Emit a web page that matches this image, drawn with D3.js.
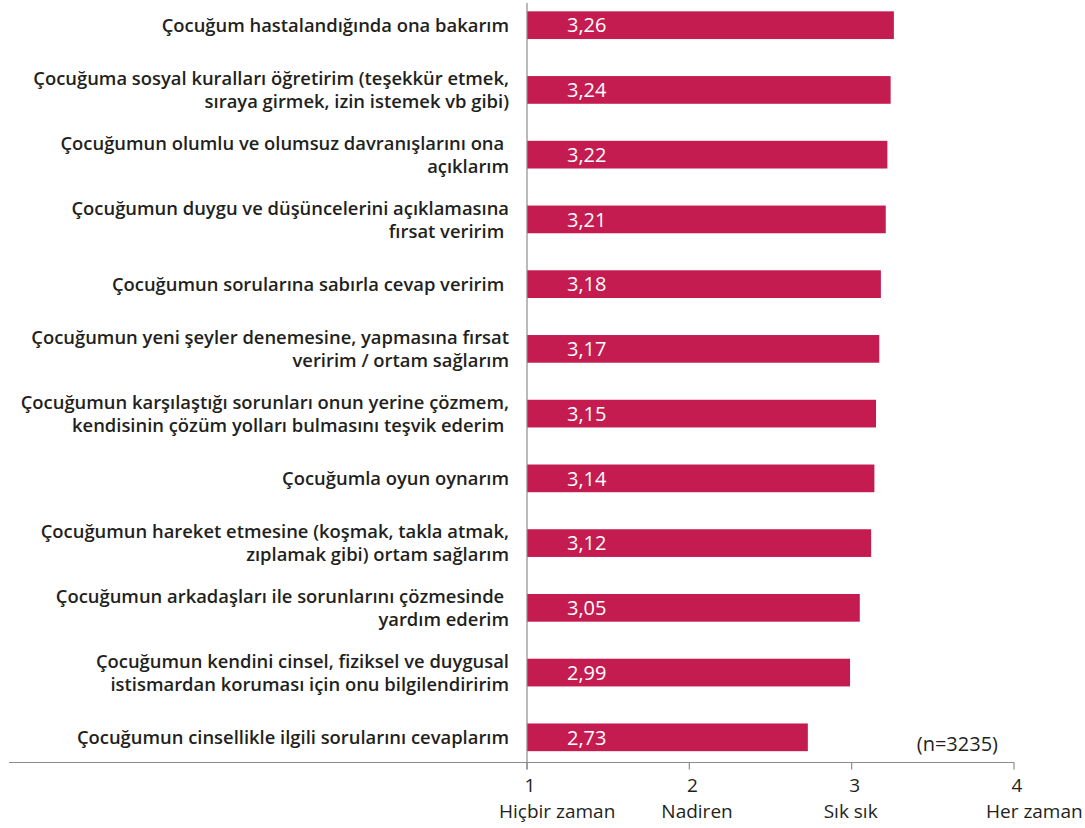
<!DOCTYPE html>
<html>
<head>
<meta charset="utf-8">
<script src="https://cdn.jsdelivr.net/npm/d3@7"></script>
<style>
  body { margin: 0; background: #fff; }
  text { font-family: "Open Sans", "Noto Sans", sans-serif; }
</style>
</head>
<body>
<script>
// statements, split in lines as in the source chart
let items = [
    ["Çocuğum hastalandığında ona bakarım"],
    ["Çocuğuma sosyal kuralları öğretirim (teşekkür etmek,", "sıraya girmek, izin istemek vb gibi)"],
    ["Çocuğumun olumlu ve olumsuz davranışlarını ona ", "açıklarım"],
    ["Çocuğumun duygu ve düşüncelerini açıklamasına", "fırsat veririm "],
    ["Çocuğumun sorularına sabırla cevap veririm "],
    ["Çocuğumun yeni şeyler denemesine, yapmasına fırsat", "veririm / ortam sağlarım"],
    ["Çocuğumun karşılaştığı sorunları onun yerine çözmem,", "kendisinin çözüm yolları bulmasını teşvik ederim "],
    ["Çocuğumla oyun oynarım"],
    ["Çocuğumun hareket etmesine (koşmak, takla atmak,", "zıplamak gibi) ortam sağlarım"],
    ["Çocuğumun arkadaşları ile sorunlarını çözmesinde ", "yardım ederim"],
    ["Çocuğumun kendini cinsel, fiziksel ve duygusal", "istismardan koruması için onu bilgilendiririm"],
    ["Çocuğumun cinsellikle ilgili sorularını cevaplarım"]
];
let values = [3.26, 3.24, 3.22, 3.21, 3.18, 3.17, 3.15, 3.14, 3.12, 3.05, 2.99, 2.73];
let ticks = [1, 2, 3, 4];
let tickNames = ["Hiçbir zaman", "Nadiren", "Sık sık", "Her zaman"];
let note = "(n=3235)";

let width = 1085,
    height = 828,
    axisY = 762.5,
    barColor = "#c41c50";

let svg = d3.select("body").append("svg")
    .attr("width", width)
    .attr("height", height);

let x = d3.scaleLinear([1, 4], [527, 1014]);
let y = d3.scaleBand(d3.range(items.length), [0, axisY])
    .paddingInner(0.572)
    .paddingOuter(0.175);

// bars
svg.selectAll(".bar")
    .data(values)
    .enter().append("rect")
    .attr("class", "bar")
    .attr("x", x(1))
    .attr("y", (d, i) => y(i))
    .attr("width", d => x(d) - x(1))
    .attr("height", y.bandwidth())
    .attr("fill", barColor);

// values inside bars
svg.selectAll(".val")
    .data(values)
    .enter().append("text")
    .attr("class", "val")
    .attr("x", x(1) + 40)
    .attr("y", (d, i) => y(i) + y.bandwidth() / 2)
    .attr("dy", "0.36em")
    .attr("fill", "#fff")
    .attr("font-size", "20px")
    .text(d => d.toFixed(2).replace(".", ","));

// category labels
let labels = svg.selectAll(".lab")
    .data(items)
    .enter().append("text")
    .attr("class", "lab")
    .attr("text-anchor", "end")
    .attr("font-size", "18.4px")
    .attr("font-weight", 600)
    .attr("fill", "#231f20")
    .attr("xml:space", "preserve");

labels.each(function(lines, i) {
    let cy = y(i) + y.bandwidth() / 2;
    let lh = 23;
    d3.select(this).selectAll("tspan")
        .data(lines)
        .enter().append("tspan")
        .attr("x", 509)
        .attr("y", (l, j) => cy + (j - (lines.length - 1) / 2) * lh)
        .attr("dy", "0.36em")
        .text(l => l);
});

// axes lines
svg.append("line")
    .attr("x1", x(1)).attr("x2", x(1))
    .attr("y1", 3).attr("y2", axisY + 7)
    .attr("stroke", "#8c8c8c").attr("stroke-width", 1.2);

svg.append("line")
    .attr("x1", 9).attr("x2", x(4))
    .attr("y1", axisY).attr("y2", axisY)
    .attr("stroke", "#8c8c8c").attr("stroke-width", 1.2);

let tk = svg.selectAll(".tick")
    .data(ticks)
    .enter().append("g")
    .attr("class", "tick")
    .attr("transform", d => `translate(${x(d)},${axisY})`);

tk.append("line")
    .attr("y2", 7)
    .attr("stroke", "#8c8c8c").attr("stroke-width", 1.2);

tk.append("text")
    .attr("text-anchor", "middle")
    .attr("x", 3)
    .attr("y", 29)
    .attr("font-size", "19px")
    .attr("fill", "#231f20")
    .text(d => d);

tk.append("text")
    .attr("x", -28)
    .attr("y", 55)
    .attr("font-size", "19px")
    .attr("fill", "#231f20")
    .text((d, i) => tickNames[i]);

svg.append("text")
    .attr("x", 998)
    .attr("y", 751)
    .attr("text-anchor", "end")
    .attr("font-size", "20px")
    .attr("fill", "#231f20")
    .text(note);
</script>
</body>
</html>
